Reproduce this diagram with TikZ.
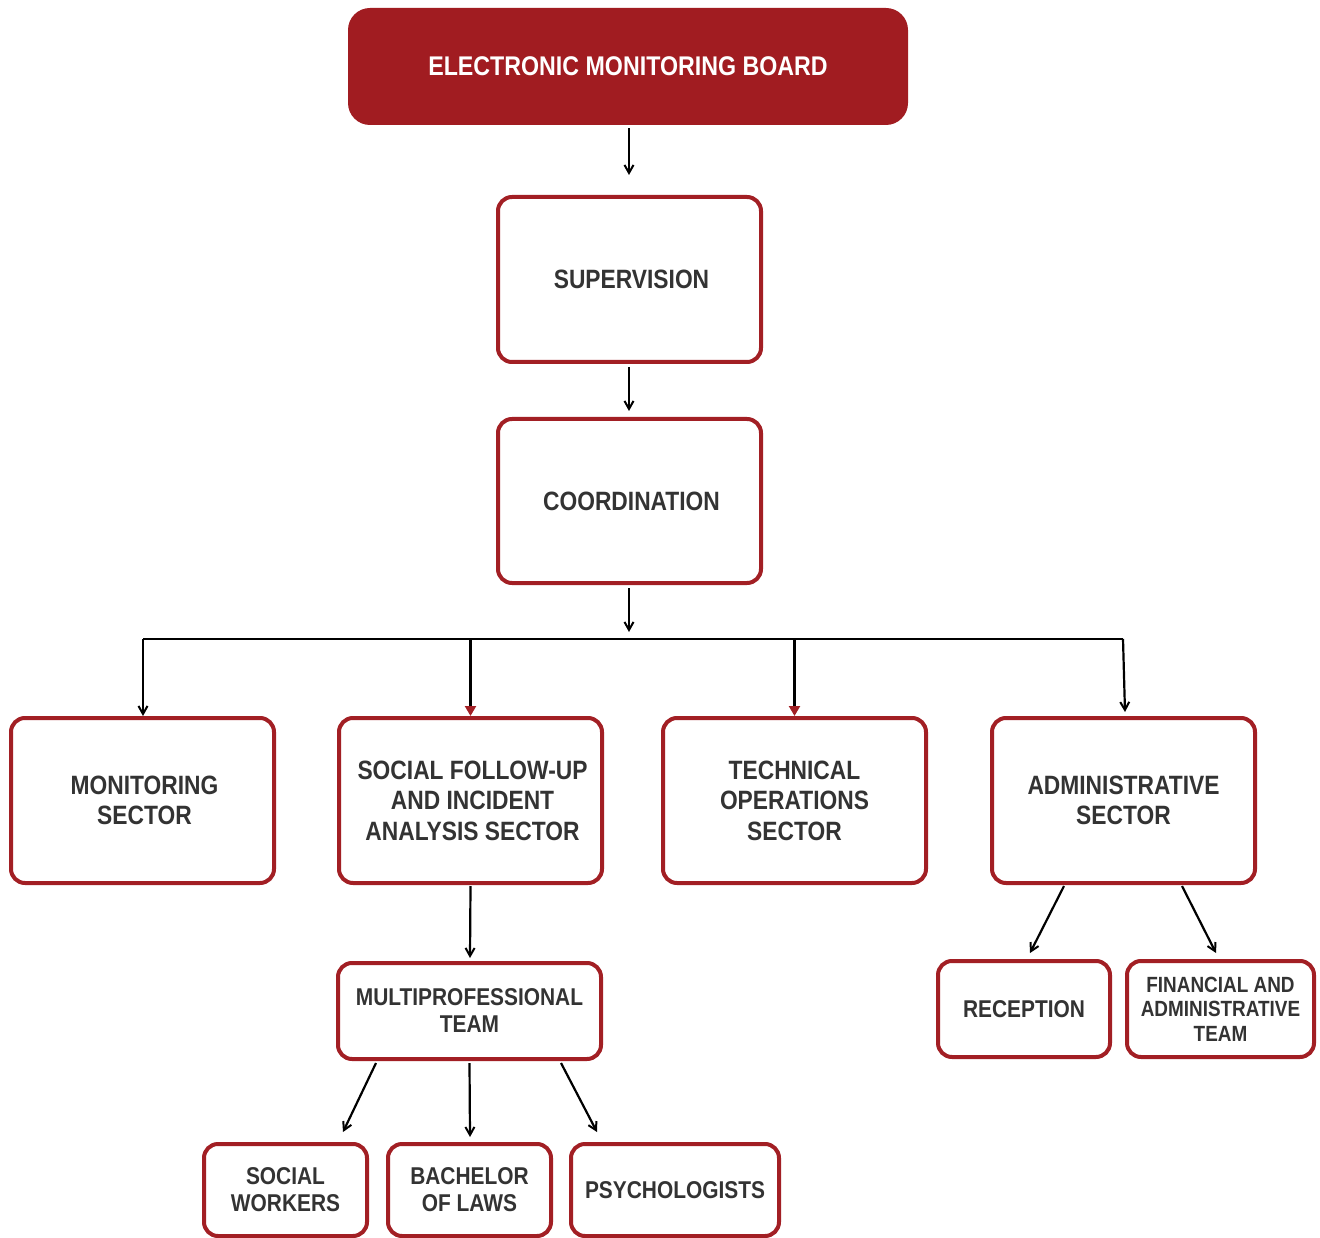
\documentclass[tikz,border=0pt]{standalone}
\usepackage{fontspec}
\setmainfont{Liberation Sans}[FakeStretch=0.86]
\usetikzlibrary{arrows.meta}
\definecolor{boardred}{HTML}{A11C21}
\definecolor{edgered}{HTML}{A21F24}
\definecolor{labelgray}{HTML}{333333}
\begin{document}
\begin{tikzpicture}[x=1pt,y=-1pt,
  unitbox/.style={draw=edgered,line width=4pt,rounded corners=14pt,fill=white,
    text=labelgray,align=center,inner sep=0pt,
    font=\fontsize{26.5}{30.5}\selectfont\bfseries},
  smallbox/.style={unitbox,font=\fontsize{24.3}{27}\selectfont\bfseries},
  tinybox/.style={unitbox,font=\fontsize{22}{24.5}\selectfont\bfseries},
  link/.style={line width=2.2pt,-{Straight Barb[length=8pt,width=9pt,line width=2pt]}},
  redlink/.style={line width=2.2pt,-{Triangle[length=10pt,width=11pt,fill=edgered,color=edgered]}},
  bar/.style={line width=2.2pt}]
\useasboundingbox (0,0) rectangle (1320,1238);

% top board
\node[fill=boardred,rounded corners=22pt,minimum width=560pt,minimum height=117pt,
  text=white,font=\fontsize{27}{30}\selectfont\bfseries,inner sep=0pt]
  (board) at (628,66.5) {ELECTRONIC MONITORING BOARD};

% chain of command
\node[unitbox,minimum width=263pt,minimum height=165pt] (sup) at (629.5,279.5) {\hspace*{4pt}SUPERVISION};
\node[unitbox,minimum width=263pt,minimum height=164pt] (coord) at (629.5,501) {\hspace*{4pt}COORDINATION};

% sectors
\node[unitbox,minimum width=263pt,minimum height=165pt] (mon) at (142.5,800.5) {\hspace*{4pt}MONITORING\\\hspace*{4pt}SECTOR};
\node[unitbox,minimum width=263pt,minimum height=165pt] (soc) at (470.5,800.5) {\hspace*{4pt}SOCIAL FOLLOW-UP\\\hspace*{4pt}AND INCIDENT\\\hspace*{4pt}ANALYSIS SECTOR};
\node[unitbox,minimum width=263pt,minimum height=165pt] (tech) at (794.5,800.5) {TECHNICAL\\OPERATIONS\\SECTOR};
\node[unitbox,minimum width=263pt,minimum height=165pt] (adm) at (1123.5,800.5) {ADMINISTRATIVE\\SECTOR};

% teams
\node[smallbox,minimum width=263pt,minimum height=96pt] (multi) at (469.5,1011) {MULTIPROFESSIONAL\\TEAM};
\node[smallbox,minimum width=172pt,minimum height=96pt] (recep) at (1024,1009) {RECEPTION};
\node[tinybox,minimum width=187pt,minimum height=96pt] (fin) at (1220.5,1009) {FINANCIAL AND\\ADMINISTRATIVE\\TEAM};

\node[smallbox,minimum width=163pt,minimum height=92pt] (sw) at (285.5,1190) {SOCIAL\\WORKERS};
\node[smallbox,minimum width=163pt,minimum height=92pt] (law) at (469.5,1190) {BACHELOR\\OF LAWS};
\node[smallbox,minimum width=208pt,minimum height=92pt] (psy) at (675,1190) {PSYCHOLOGISTS};

% branching point under coordination
\coordinate (hub) at (629,639);
\coordinate (hl) at (143,639);
\coordinate (hr) at (1123,639);

\draw[link] (board.south -| 629,0) ++(0,3) -- (629,175);
\draw[link] (sup.south -| 629,0) ++(0,3) -- (629,411);
\draw[link] (coord.south -| 629,0) ++(0,3) -- (629,632);

\draw[bar] (hl) -- (hr);
\draw[link] (hl) -- (143,716);
\draw[redlink] (hl -| soc.north) -- (soc.north);
\draw[redlink] (hl -| tech.north) -- (tech.north);
\draw[link] (hr) -- (1125,712);

\draw[link] (soc.south) ++(0,1) -- (470,958);
\draw[link] (multi.south -| 376,0) ++(0,2) -- (343,1132);
\draw[link] (multi.south) ++(0,2) -- (470,1137);
\draw[link] (multi.south -| 561,0) ++(0,2) -- (597,1132);

\draw[link] (adm.south -| 1064,0) ++(0,1) -- (1030,953);
\draw[link] (adm.south -| 1182,0) ++(0,1) -- (1216,953);
\end{tikzpicture}
\end{document}
